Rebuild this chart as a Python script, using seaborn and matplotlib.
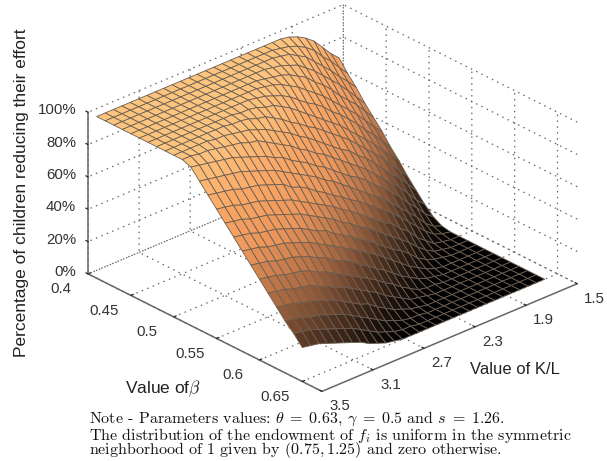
import warnings
import numpy as np
import matplotlib
matplotlib.use("Agg")
import matplotlib.pyplot as plt
from mpl_toolkits.mplot3d import proj3d
import seaborn as sns

warnings.filterwarnings("ignore")

# Rows: beta = 0.41 ... 0.65 ; one list per K/L grid value
beta_values = [0.41, 0.42, 0.43, 0.44, 0.45, 0.46, 0.47, 0.48, 0.49, 0.50, 0.51, 0.52, 0.53,
               0.54, 0.55, 0.56, 0.57, 0.58, 0.59, 0.60, 0.61, 0.62, 0.63, 0.64, 0.65]
kl_values = [1.600, 1.666, 1.731, 1.797, 1.862, 1.928, 1.993, 2.059, 2.124, 2.190,
             2.255, 2.321, 2.386, 2.452, 2.517, 2.583, 2.648, 2.714, 2.779, 2.845,
             2.910, 2.976, 3.041, 3.107, 3.172, 3.238, 3.303, 3.369, 3.434, 3.500]
c00 = [73, 66, 60, 53, 47, 41, 34, 28, 21, 15, 9, 4, 1, 0, 0, 0, 0, 0, 0, 0, 0, 0, 0, 0, 0]
c01 = [78, 72, 66, 59, 53, 46, 40, 34, 27, 21, 14, 8, 3, 1, 0, 0, 0, 0, 0, 0, 0, 0, 0, 0, 0]
c02 = [84, 78, 71, 65, 59, 52, 46, 39, 33, 27, 20, 14, 7, 3, 1, 0, 0, 0, 0, 0, 0, 0, 0, 0, 0]
c03 = [90, 83, 77, 71, 64, 58, 51, 45, 39, 32, 26, 19, 13, 7, 2, 1, 0, 0, 0, 0, 0, 0, 0, 0, 0]
c04 = [94, 89, 82, 76, 69, 63, 57, 50, 44, 37, 31, 25, 18, 12, 6, 2, 1, 0, 0, 0, 0, 0, 0, 0, 0]
c05 = [97, 93, 87, 81, 75, 68, 62, 55, 49, 43, 36, 30, 23, 17, 10, 5, 2, 0, 0, 0, 0, 0, 0, 0, 0]
c06 = [99, 96, 92, 86, 80, 73, 67, 60, 54, 48, 41, 35, 28, 22, 16, 9, 4, 1, 0, 0, 0, 0, 0, 0, 0]
c07 = [100, 98, 95, 90, 84, 78, 71, 65, 59, 52, 46, 39, 33, 27, 20, 14, 7, 3, 1, 0, 0, 0, 0, 0, 0]
c08 = [100, 99, 98, 94, 89, 82, 76, 69, 63, 57, 50, 44, 37, 31, 25, 18, 12, 6, 2, 1, 0, 0, 0, 0, 0]
c09 = [100, 100, 99, 96, 92, 86, 80, 73, 67, 60, 54, 48, 41, 35, 28, 22, 16, 9, 4, 1, 0, 0, 0, 0, 0]
c10 = [100, 100, 100, 98, 95, 90, 83, 77, 71, 64, 58, 51, 45, 39, 32, 26, 19, 13, 7, 2, 1, 0, 0, 0, 0]
c11 = [100, 100, 100, 99, 97, 93, 87, 81, 75, 68, 62, 55, 49, 43, 36, 30, 23, 17, 10, 5, 2, 0, 0, 0, 0]
c12 = [100, 100, 100, 100, 98, 96, 91, 85, 78, 72, 66, 59, 53, 46, 40, 34, 27, 21, 14, 8, 3, 1, 0, 0, 0]
c13 = [100, 100, 100, 100, 99, 98, 94, 89, 82, 76, 69, 63, 57, 50, 44, 37, 31, 25, 18, 12, 6, 2, 1, 0, 0]
c14 = [100, 100, 100, 100, 100, 99, 96, 92, 85, 79, 73, 66, 60, 53, 47, 41, 34, 28, 21, 15, 9, 4, 1, 0, 0]
c15 = [100, 100, 100, 100, 100, 100, 98, 95, 89, 83, 76, 70, 64, 57, 51, 44, 38, 32, 25, 19, 12, 6, 2, 1, 0]
c16 = [100, 100, 100, 100, 100, 100, 99, 96, 92, 86, 80, 73, 67, 60, 54, 48, 41, 35, 28, 22, 16, 9, 4, 1, 0]
c17 = [100, 100, 100, 100, 100, 100, 100, 98, 95, 89, 83, 76, 70, 64, 57, 51, 44, 38, 32, 25, 19, 12, 6, 2, 0]
c18 = [100, 100, 100, 100, 100, 100, 100, 99, 96, 92, 86, 80, 73, 67, 60, 54, 48, 41, 35, 28, 22, 16, 9, 4, 1]
c19 = [100, 100, 100, 100, 100, 100, 100, 99, 98, 94, 89, 82, 76, 69, 63, 57, 50, 44, 37, 31, 25, 18, 12, 6, 2]
c20 = [100, 100, 100, 100, 100, 100, 100, 100, 99, 96, 92, 85, 79, 73, 66, 60, 53, 47, 41, 34, 28, 21, 15, 9, 4]
c21 = [100, 100, 100, 100, 100, 100, 100, 100, 99, 97, 93, 87, 81, 75, 68, 62, 56, 50, 43, 37, 30, 24, 18, 12, 6]
c22 = [100, 100, 100, 100, 100, 100, 100, 100, 100, 98, 95, 89, 83, 77, 70, 64, 58, 52, 46, 39, 33, 27, 21, 15, 9]
c23 = [100, 100, 100, 100, 100, 100, 100, 100, 100, 99, 96, 91, 85, 79, 72, 66, 60, 54, 48, 42, 35, 29, 23, 17, 11]
c24 = [100, 100, 100, 100, 100, 100, 100, 100, 100, 99, 97, 93, 87, 80, 74, 68, 62, 56, 50, 44, 38, 31, 25, 19, 13]
c25 = [100, 100, 100, 100, 100, 100, 100, 100, 100, 100, 98, 94, 88, 81, 75, 69, 63, 57, 51, 45, 39, 33, 27, 21, 15]
c26 = [100, 100, 100, 100, 100, 100, 100, 100, 100, 100, 99, 95, 89, 83, 76, 70, 64, 58, 52, 46, 40, 34, 28, 23, 17]
c27 = [100, 100, 100, 100, 100, 100, 100, 100, 100, 100, 99, 96, 90, 84, 78, 72, 66, 60, 54, 48, 42, 36, 30, 25, 19]
c28 = [100, 100, 100, 100, 100, 100, 100, 100, 100, 100, 100, 97, 91, 85, 79, 73, 67, 61, 55, 49, 43, 37, 31, 26, 20]
c29 = [100, 100, 100, 100, 100, 100, 100, 100, 100, 100, 100, 98, 92, 86, 80, 74, 68, 62, 56, 50, 44, 38, 32, 27, 21]

beta_ticks = [0.4, 0.45, 0.5, 0.55, 0.6, 0.65]
beta_tick_labels = ["0.4", "0.45", "0.5", "0.55", "0.6", "0.65"]
kl_ticks = [1.5, 1.9, 2.3, 2.7, 3.1, 3.5]
kl_tick_labels = ["1.5", "1.9", "2.3", "2.7", "3.1", "3.5"]
pct_ticks = [0, 20, 40, 60, 80, 100]
pct_tick_labels = ["0%", "20%", "40%", "60%", "80%", "100%"]
cmap_anchors = ["#000000", "#4b3020", "#ac6a42", "#ec965a", "#fba866", "#fdc47e"]

sns.set_theme(style="white")
plt.rcParams["font.family"] = ["Liberation Sans", "DejaVu Sans"]
plt.rcParams["mathtext.fontset"] = "cm"

Z = np.column_stack([c00, c01, c02, c03, c04, c05, c06, c07, c08, c09,
                     c10, c11, c12, c13, c14, c15, c16, c17, c18, c19,
                     c20, c21, c22, c23, c24, c25, c26, c27, c28, c29]).astype(float)
K, B = np.meshgrid(kl_values, beta_values)
cmap = sns.blend_palette(cmap_anchors, as_cmap=True)

W, H = 607, 461
fig = plt.figure(figsize=(W / 100, H / 100), dpi=100, facecolor="white")
ax = fig.add_axes([0.158, 0.057, H / W, 1.0], projection="3d", proj_type="ortho")
ax.set_box_aspect((1, 1, 0.526), zoom=1.10)
ax.view_init(elev=27.4, azim=-42.5)

ax.plot_surface(B, K, Z, cmap=cmap, vmin=0, vmax=100, rstride=1, cstride=1,
                edgecolor=(0.42, 0.37, 0.32), linewidth=0.6, antialiased=True, shade=False)

ax.set_xlim(0.4, 0.673)
ax.set_ylim(3.5, 1.5)
ax.set_zlim(0, 100)
ax.set_xticks(beta_ticks)
ax.set_yticks(kl_ticks)
ax.set_zticks(pct_ticks)

for axis in (ax.xaxis, ax.yaxis, ax.zaxis):
    axis.set_pane_color((1, 1, 1, 0))
    axis.pane.set_edgecolor((1, 1, 1, 0))
    axis.line.set_color("#666666")
    axis.line.set_linewidth(1.1)
    axis._axinfo["grid"].update(color="#666666", linestyle=(0, (1.2, 3.5)), linewidth=0.9)
    axis._axinfo["tick"].update(color="#555555", inward_factor=0.0, outward_factor=0.12, linewidth={True: 0.9, False: 0.9})
    axis.set_major_formatter(plt.NullFormatter())
    for tick in axis.get_major_ticks():
        tick.label1.set_visible(False)
        tick.label2.set_visible(False)
ax.grid(True)
ax.zaxis.set_ticks_position("upper")

# Tick labels: placed through the axes' own 3D projection, as ordinary 2D text
projection = ax.get_proj()
tick_style = dict(fontsize=10.8, color="#333333", va="center", transform=ax.transData)

def place(x, y, z, label, ha):
    px2, py2, _ = proj3d.proj_transform(x, y, z, projection)
    ax.text2D(px2, py2, label, ha=ha, **tick_style)

for value, label in zip(beta_ticks, beta_tick_labels):
    place(value, 3.71, -2.6, label, "center")
for value, label in zip(kl_ticks, kl_tick_labels):
    place(0.6935, value, -3.7, label, "center")
for value, label in zip(pct_ticks, pct_tick_labels):
    place(0.3862, 3.5, value - 2.5, label, "right")

def px(x, y):
    return x / W, 1 - y / H

fig.text(*px(22, 193), "Percentage of children reducing their effort", rotation=90,
         ha="center", va="center", fontsize=12.5, color="#222222")
fig.text(*px(125, 389), r"Value of$\beta$", ha="left", va="center", fontsize=12.5, color="#222222")
fig.text(*px(470, 369), "Value of K/L", ha="left", va="center", fontsize=12, color="#222222")

note = [r"Note - Parameters values: $\theta\;=\;0.63$, $\gamma\;=\;0.5$ and $s\;=\;1.26$.",
        r"The distribution of the endowment of $f_i$ is uniform in the symmetric",
        r"neighborhood of 1 given by $(0.75, 1.25)$ and zero otherwise."]
for text, y in zip(note, (419, 435, 450)):
    fig.text(*px(89, y), text, ha="left", va="center", fontsize=11.5, color="#111111",
             family=["cmr10", "Liberation Serif"])

fig.savefig("out.png", dpi=100, facecolor="white")
